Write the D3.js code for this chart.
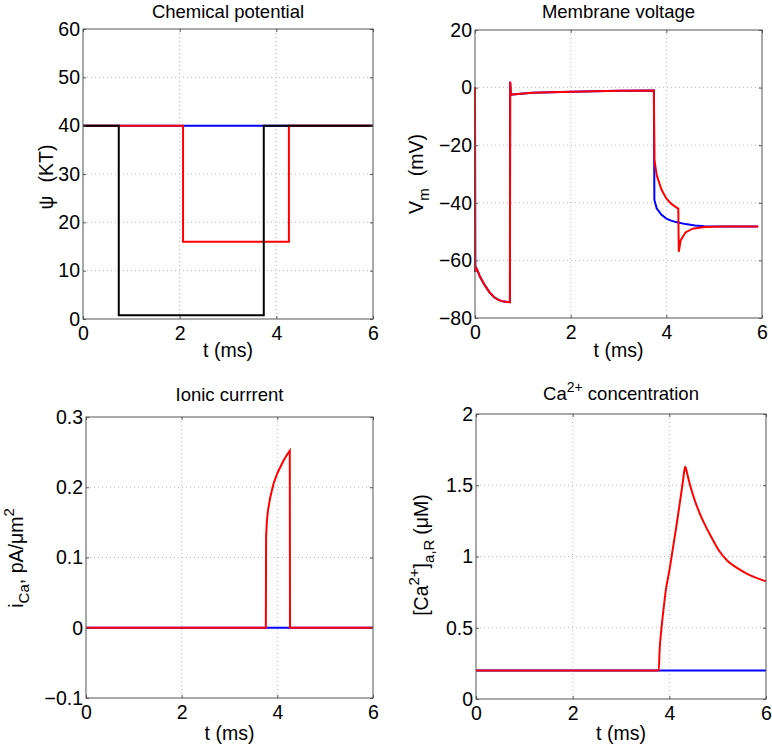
<!DOCTYPE html>
<html><head><meta charset="utf-8">
<script src="https://cdn.jsdelivr.net/npm/d3@7"></script>
<style>
body{margin:0;background:#fff;}
text{font-family:"Liberation Sans",Arial,Helvetica,sans-serif;fill:#000;}
</style></head>
<body><svg id="c" width="772" height="745"></svg>
<script>
// ---------- data ----------
const timeTicks = [0, 2, 4, 6];

// Chemical potential (KT)
const psiTicks = [0, 10, 20, 30, 40, 50, 60];
const psiBlueT = [0, 6];
const psiBlue  = [40, 40];
const psiRedT  = [0, 2.07, 2.07, 4.26, 4.26, 6];
const psiRed   = [40, 40, 16, 16, 40, 40];
const psiBlackT = [0, 0.74, 0.74, 3.74, 3.74, 6];
const psiBlack  = [40, 40, 0.8, 0.8, 40, 40];

// Membrane voltage (mV)
const vmTicks = [-80, -60, -40, -20, 0, 20];
const vmBlueT = [0, 0.005, 0.02, 0.05, 0.1, 0.2, 0.3, 0.4, 0.5, 0.6, 0.73, 0.735, 0.75, 0.78, 0.9, 1.2, 1.8, 2.5, 3.0, 3.74,
                 3.75, 3.8, 3.9, 4.0, 4.1, 4.2, 4.4, 4.6, 4.8, 5.2, 5.92];
const vmBlue  = [0, -64, -62.5, -63.5, -65.5, -68.5, -71, -72.8, -73.8, -74.3, -74.5, 2, -2.5, -2.4, -2.2, -1.8, -1.5, -1.3, -1.1, -1,
                 -39, -42, -44.2, -45.5, -46.2, -46.7, -47.4, -47.9, -48.1, -48.2, -48.2];
const vmRedT  = [0, 0.005, 0.02, 0.05, 0.1, 0.2, 0.3, 0.4, 0.5, 0.6, 0.73, 0.735, 0.75, 0.78, 0.9, 1.2, 1.8, 2.5, 3.0, 3.74,
                 3.75, 3.8, 3.9, 4.0, 4.1, 4.2, 4.25, 4.26, 4.3, 4.4, 4.55, 4.8, 5.2, 5.92];
const vmRed   = [0, -64, -62.5, -63.5, -65.5, -68.5, -71, -72.8, -73.8, -74.3, -74.5, 2, -2.5, -2.4, -2.2, -1.8, -1.5, -1.3, -1.1, -1,
                 -25, -30.5, -35.5, -38.5, -40.3, -41.5, -42, -57, -53, -50.3, -49, -48.4, -48.2, -48.2];

// Ionic current (pA/um^2)
const iCaTicks = [-0.1, 0, 0.1, 0.2, 0.3];
const iCaBlueT = [0, 6];
const iCaBlue  = [0, 0];
const iCaRedT  = [0, 3.76, 3.765, 3.78, 3.8, 3.85, 3.92, 4.0, 4.13, 4.2, 4.26, 4.265, 6];
const iCaRed   = [0, 0, 0.13, 0.15, 0.165, 0.185, 0.205, 0.22, 0.238, 0.246, 0.252, 0, 0];

// Ca2+ concentration (uM)
const caTicks = [0, 0.5, 1, 1.5, 2];
const caBlueT = [0, 6];
const caBlue  = [0.2, 0.2];
const caRedT  = [0, 3.78, 3.8, 3.83, 3.87, 3.93, 4.0, 4.07, 4.14, 4.21, 4.27, 4.31, 4.33, 4.37, 4.43, 4.52, 4.62, 4.74, 4.88, 5.03, 5.2, 5.4, 5.6, 5.8, 6.0];
const caRed   = [0.2, 0.2, 0.35, 0.47, 0.6, 0.77, 0.9, 1.05, 1.2, 1.36, 1.5, 1.6, 1.63, 1.58, 1.5, 1.4, 1.31, 1.22, 1.13, 1.04, 0.97, 0.92, 0.88, 0.85, 0.826];

// ---------- drawing ----------
const svg = d3.select("#c");
const FS = 19.5;
const fmt = d => String(d).replace("-", "\u2212");

function panel(cfg) {
  const x = d3.scaleLinear().domain([0, 6]).range([cfg.x0, cfg.x1]);
  const y = d3.scaleLinear().domain(cfg.yDomain).range([cfg.y1, cfg.y0]);
  const g = svg.append("g");

  // grid
  g.append("g").selectAll("line").data(timeTicks.slice(1, -1)).join("line")
    .attr("x1", d => x(d)).attr("x2", d => x(d)).attr("y1", cfg.y0).attr("y2", cfg.y1)
    .attr("stroke", "#b8b8b8").attr("stroke-width", 1).attr("stroke-dasharray", "1,3");
  g.append("g").selectAll("line").data(cfg.yTicks.slice(1, -1)).join("line")
    .attr("x1", cfg.x0).attr("x2", cfg.x1).attr("y1", d => y(d)).attr("y2", d => y(d))
    .attr("stroke", "#b8b8b8").attr("stroke-width", 1).attr("stroke-dasharray", "1,3");

  // series
  cfg.series.forEach(s => {
    const line = d3.line().x(d => x(d[0])).y(d => y(d[1])).curve(s.smooth ? d3.curveMonotoneX : d3.curveLinear);
    const pts = s.t.map((t, i) => [t, s.v[i]]);
    g.append("path").datum(pts).attr("d", line).attr("fill", "none")
      .attr("stroke", s.color).attr("stroke-width", 2).attr("stroke-linejoin", "miter");
  });

  // axes
  const ax = (gen, tr, labels) => {
    const a = g.append("g").attr("transform", tr).call(gen);
    a.select(".domain").remove();
    a.selectAll(".tick line").attr("stroke", "#555");
    a.selectAll("text").style("font-size", FS + "px").style("font-family", null).attr("fill", "#000");
    if (!labels) a.selectAll("text").remove();
    return a;
  };
  ax(d3.axisBottom(x).tickValues(timeTicks).tickFormat(fmt).tickSize(-3).tickPadding(7), `translate(0,${cfg.y1})`, true);
  ax(d3.axisTop(x).tickValues(timeTicks).tickSize(-3), `translate(0,${cfg.y0})`, false);
  ax(d3.axisLeft(y).tickValues(cfg.yTicks).tickFormat(fmt).tickSize(-3).tickPadding(3), `translate(${cfg.x0},0)`, true);
  ax(d3.axisRight(y).tickValues(cfg.yTicks).tickSize(-3), `translate(${cfg.x1},0)`, false);

  g.append("rect").attr("x", cfg.x0).attr("y", cfg.y0).attr("width", cfg.x1 - cfg.x0).attr("height", cfg.y1 - cfg.y0)
    .attr("fill", "none").attr("stroke", "#555").attr("stroke-width", 1);

  // title
  const tt = g.append("text").attr("x", (cfg.x0 + cfg.x1) / 2).attr("y", cfg.titleY)
    .attr("text-anchor", "middle").style("font-size", "18.5px");
  cfg.title(tt);

  // x label
  g.append("text").attr("x", (cfg.x0 + cfg.x1) / 2).attr("y", cfg.xlabY)
    .attr("text-anchor", "middle").style("font-size", "19.5px").text("t (ms)");

  // y label
  const yl = g.append("text").attr("transform", `translate(${cfg.ylabX},${cfg.ylabCY}) rotate(-90)`)
    .attr("text-anchor", "middle").style("font-size", "19.5px");
  cfg.ylab(yl);
}

panel({
  x0: 83, x1: 373, y0: 29, y1: 319, yDomain: [0, 60], yTicks: psiTicks,
  series: [{t: psiBlueT, v: psiBlue, color: "#0000ff"}, {t: psiRedT, v: psiRed, color: "#ff0000"}, {t: psiBlackT, v: psiBlack, color: "#000000"}],
  titleY: 18, title: t => t.text("Chemical potential"),
  xlabY: 357, ylabX: 53, ylabCY: 177,
  ylab: t => { t.append("tspan").text("\u03C8"); t.append("tspan").attr("dx", 13).text("(KT)"); }
});

panel({
  x0: 475, x1: 762, y0: 30, y1: 318, yDomain: [-80, 20], yTicks: vmTicks,
  series: [{t: vmBlueT, v: vmBlue, color: "#0000ff"}, {t: vmRedT, v: vmRed, color: "#ff0000"}],
  titleY: 18, title: t => t.text("Membrane voltage"),
  xlabY: 357, ylabX: 423, ylabCY: 174,
  ylab: t => {
    t.append("tspan").text("V");
    t.append("tspan").attr("dy", 6).style("font-size", "15px").text("m");
    t.append("tspan").attr("dy", -6).attr("dx", 12).text("(mV)");
  }
});

panel({
  x0: 86, x1: 373, y0: 417, y1: 698, yDomain: [-0.1, 0.3], yTicks: iCaTicks,
  series: [{t: iCaBlueT, v: iCaBlue, color: "#0000ff"}, {t: iCaRedT, v: iCaRed, color: "#ff0000"}],
  titleY: 401, title: t => t.text("Ionic currrent"),
  xlabY: 740, ylabX: 23, ylabCY: 558,
  ylab: t => {
    t.append("tspan").text("i");
    t.append("tspan").attr("dy", 6).style("font-size", "15px").text("Ca");
    t.append("tspan").attr("dy", -6).text(", pA/\u03BCm");
    t.append("tspan").attr("dy", -9).style("font-size", "15px").text("2");
  }
});

panel({
  x0: 476, x1: 766, y0: 414, y1: 699, yDomain: [0, 2], yTicks: caTicks,
  series: [{t: caBlueT, v: caBlue, color: "#0000ff"}, {t: caRedT, v: caRed, color: "#ff0000", smooth: true}],
  titleY: 400, title: t => {
    t.append("tspan").text("Ca");
    t.append("tspan").attr("dy", -8).style("font-size", "14px").text("2+");
    t.append("tspan").attr("dy", 8).text(" concentration");
  },
  xlabY: 740, ylabX: 428, ylabCY: 555,
  ylab: t => {
    t.append("tspan").text("[Ca");
    t.append("tspan").attr("dy", -9).style("font-size", "15px").text("2+");
    t.append("tspan").attr("dy", 9).text("]");
    t.append("tspan").attr("dy", 6).style("font-size", "15px").text("a,R");
    t.append("tspan").attr("dy", -6).attr("dx", 5).text("(\u03BCM)");
  }
});
</script></body></html>
